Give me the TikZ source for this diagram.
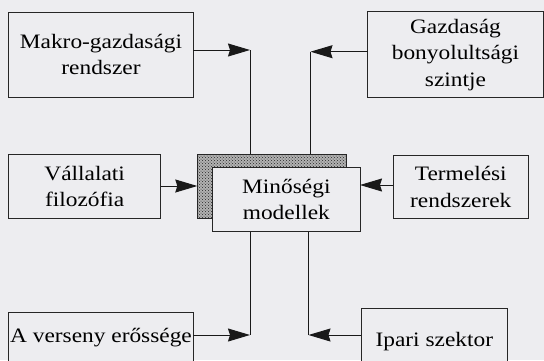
\documentclass[tikz,border=0pt]{standalone}
\usepackage{fontspec}
\setmainfont{Liberation Serif}[FakeStretch=1.14]
\usetikzlibrary{arrows.meta,patterns}
\definecolor{bgc}{RGB}{237,237,240}
\tikzset{
  box/.style={draw=black!85, line width=0.9pt, fill=bgc, align=center, inner sep=0pt,
    outer sep=0pt, anchor=north west, font=\fontsize{20.5}{26.5}\selectfont},
  conn/.style={draw=black!90, line width=1pt},
  arr/.style={conn, -{Stealth[length=22pt,width=13pt,inset=2pt]}}
}
\begin{document}
\begin{tikzpicture}[x=1pt,y=-1pt]
\clip (0,0) rectangle (544,360);
\fill[bgc] (0,0) rectangle (544,360);
% boxes
\node[box, minimum width=184.6pt, minimum height=84.7pt] (mk) at (8.7,12.3) {Makro-gazdasági\\rendszer};
\node[box, minimum width=175.5pt, minimum height=85.4pt] (gz) at (367.7,11.9) {Gazdaság\\bonyolultsági\\szintje};
\node[box, minimum width=152pt, minimum height=64pt] (va) at (8.7,154.3) {Vállalati\\filozófia};
\node[box, minimum width=135pt, minimum height=63pt] (te) at (393.3,155.3) {Termelési\\rendszerek};
\node[box, fill=none, preaction={fill=black!30}, pattern=crosshatch dots, pattern color=black!85, minimum width=148.7pt, minimum height=64.3pt] (sh) at (197.3,154) {};
\node[box, minimum width=147.3pt, minimum height=64.4pt] (mm) at (212.7,167.3) {Minőségi\\modellek};
\node[box, minimum width=184.6pt, minimum height=50pt] (ve) at (8.7,312.3) {A verseny erőssége};
\node[box, minimum width=146.6pt, minimum height=66pt] (ip) at (361,308.3) {Ipari szektor};
% junction points
\coordinate (c1) at (250,50);
\coordinate (c2) at (310.5,51.7);
\coordinate (c3) at (250,335);
\coordinate (c4) at (308.5,335);
% connectors
\draw[conn] (sh.north -| c1) -- (c1);
\draw[arr] (mk.east |- c1) -- (c1);
\draw[conn] (sh.north -| c2) -- (c2);
\draw[arr] (gz.west |- c2) -- (c2);
\draw[arr] (va.east |- 0,186) -- (sh.west |- 0,186);
\draw[arr] (te.west |- 0,185) -- (mm.east |- 0,185);
\draw[conn] (mm.south -| c3) -- (c3);
\draw[arr] (ve.east |- c3) -- (c3);
\draw[conn] (mm.south -| c4) -- (c4);
\draw[arr] (ip.west |- c4) -- (c4);
\end{tikzpicture}
\end{document}
